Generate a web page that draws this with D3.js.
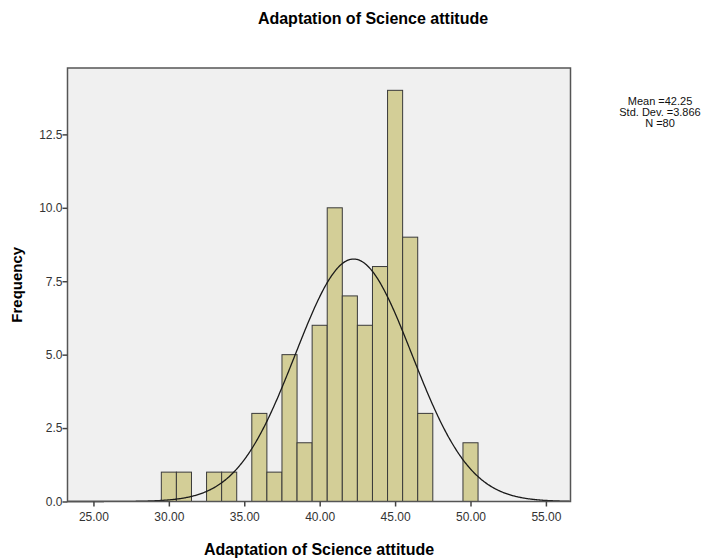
<!DOCTYPE html>
<html>
<head>
<meta charset="utf-8">
<script src="https://cdn.jsdelivr.net/npm/d3@7"></script>
<style>
  body { margin: 0; background: #fff; }
  text { font-family: "Liberation Sans", Arial, sans-serif; }
</style>
</head>
<body>
<svg id="chart" width="715" height="560"></svg>
<script>
// histogram bins (centre of each 1-unit bin) and counts
var binCentres = [30, 31, 33, 34, 36, 37, 38, 39, 40, 41, 42, 43, 44, 45, 46, 47, 50]
var binCounts  = [1, 1, 1, 1, 3, 1, 5, 2, 6, 10, 7, 6, 8, 14, 9, 3, 2]
var xTicks = [25, 30, 35, 40, 45, 50, 55]
var yTicks = [0, 2.5, 5, 7.5, 10, 12.5]
var statLines = ["Mean =42.25", "Std. Dev. =3.866", "N =80"]
var mean = 42.25, sd = 3.866, n = 80, binWidth = 1

// plot box (window.top is read-only, so no bare `top`)
var plotL = 67.5, plotR = 570.5, plotT = 68, plotB = 501.5

var svg = d3.select("#chart")

var x = d3.scaleLinear()
    .domain([23.28, 56.63])
    .range([plotL, plotR])

var y = d3.scaleLinear()
    .domain([0, 14.76])
    .range([plotB, plotT])

// plot background
svg.append("rect")
    .attr("x", plotL)
    .attr("y", plotT)
    .attr("width", plotR - plotL)
    .attr("height", plotB - plotT)
    .style("fill", "#f0f0f0")

// bars
svg.append("g")
    .selectAll("rect")
    .data(binCentres)
    .enter()
    .append("rect")
    .attr("x", function(d) { return x(d - binWidth / 2) })
    .attr("width", function(d) { return x(d + binWidth / 2) - x(d - binWidth / 2) })
    .attr("y", function(d, i) { return y(binCounts[i]) })
    .attr("height", function(d, i) { return y(0) - y(binCounts[i]) })
    .style("fill", "#d3ce97")
    .style("stroke", "#3a3a3a")
    .style("stroke-width", 1)

// normal curve
var curvePts = d3.range(x.domain()[0], x.domain()[1], 0.05)
var normal = function(v) {
    return n * binWidth / (sd * Math.sqrt(2 * Math.PI)) * Math.exp(-0.5 * Math.pow((v - mean) / sd, 2))
}
svg.append("path")
    .datum(curvePts)
    .attr("d", d3.line()
        .x(function(d) { return x(d) })
        .y(function(d) { return y(normal(d)) }))
    .style("fill", "none")
    .style("stroke", "#1a1a1a")
    .style("stroke-width", 1.3)

// frame
svg.append("rect")
    .attr("x", plotL)
    .attr("y", plotT)
    .attr("width", plotR - plotL)
    .attr("height", plotB - plotT)
    .style("fill", "none")
    .style("stroke", "#555")
    .style("stroke-width", 1.5)

// axes
var xAxis = d3.axisBottom(x)
    .tickValues(xTicks)
    .tickFormat(d3.format(".2f"))
    .tickSize(5)
    .tickSizeOuter(0)

var yAxis = d3.axisLeft(y)
    .tickValues(yTicks)
    .tickFormat(d3.format(".1f"))
    .tickSize(5)
    .tickSizeOuter(0)

var gx = svg.append("g")
    .attr("transform", "translate(0," + plotB + ")")
    .call(xAxis)
var gy = svg.append("g")
    .attr("transform", "translate(" + plotL + ",0)")
    .call(yAxis)

gx.select(".domain").remove()
gy.select(".domain").remove()
svg.selectAll(".tick line").style("stroke", "#444").style("stroke-width", 1.5)
svg.selectAll(".tick text")
    .style("font-size", "12px")
    .style("font-family", "'Liberation Sans', Arial, sans-serif")
    .style("fill", "#333")
gx.selectAll(".tick text").attr("y", 11)
gy.selectAll(".tick text").attr("x", -5)

// titles
svg.append("text")
    .attr("x", 373)
    .attr("y", 24)
    .attr("text-anchor", "middle")
    .style("font-size", "16px")
    .style("font-weight", "bold")
    .text("Adaptation of Science attitude")

svg.append("text")
    .attr("x", (plotL + plotR) / 2)
    .attr("y", 555)
    .attr("text-anchor", "middle")
    .style("font-size", "16px")
    .style("font-weight", "bold")
    .text("Adaptation of Science attitude")

svg.append("text")
    .attr("transform", "translate(22," + ((plotT + plotB) / 2) + ") rotate(-90)")
    .attr("text-anchor", "middle")
    .style("font-size", "15px")
    .style("font-weight", "bold")
    .text("Frequency")

// stats box
svg.append("g")
    .selectAll("text")
    .data(statLines)
    .enter()
    .append("text")
    .attr("x", 660)
    .attr("y", function(d, i) { return 105 + i * 11 })
    .attr("text-anchor", "middle")
    .style("font-size", "11px")
    .style("fill", "#111")
    .text(function(d) { return d })
</script>
</body>
</html>
